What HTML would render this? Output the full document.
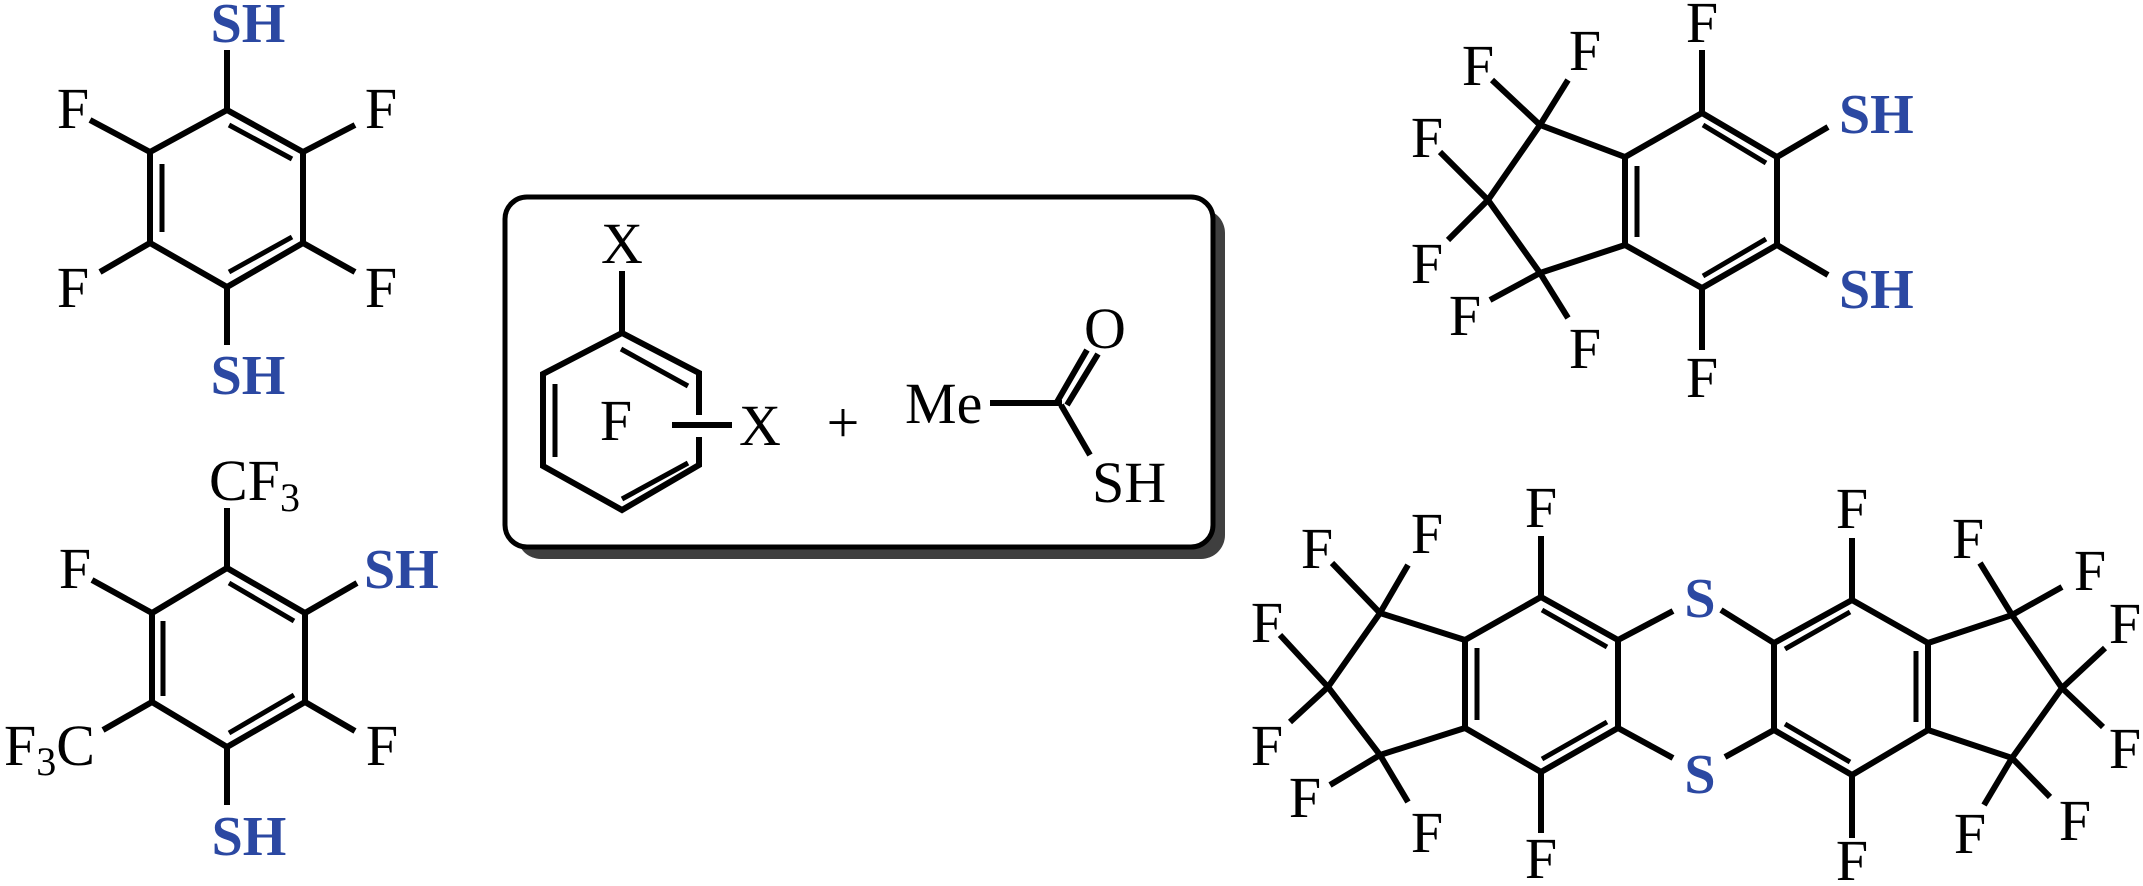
<!DOCTYPE html>
<html><head><meta charset="utf-8"><style>
html,body{margin:0;padding:0;background:#fff;width:2143px;height:886px;overflow:hidden}
svg{display:block}
text{font-family:"Liberation Serif",serif;font-size:58px;fill:#000}
.b{font-weight:bold;fill:#2b48a2;font-size:56px}
line,polyline,polygon{stroke:#000;stroke-width:6;fill:none;stroke-linecap:butt;stroke-linejoin:miter}
.d{stroke-width:5}
</style></head><body>
<svg width="2143" height="886" viewBox="0 0 2143 886">
<!-- Molecule 1 -->
<polygon points="227,110 303,152 303,243 227,287 150,243 150,152"/>
<line class="d" x1="162" y1="164" x2="162" y2="232"/>
<line class="d" x1="229" y1="125" x2="292" y2="159"/>
<line class="d" x1="292" y1="237" x2="229" y2="272"/>
<line x1="227" y1="110" x2="227" y2="50"/>
<line x1="227" y1="287" x2="227" y2="345"/>
<line x1="150" y1="152" x2="90" y2="120"/>
<line x1="303" y1="152" x2="355" y2="125"/>
<line x1="150" y1="243" x2="100" y2="272"/>
<line x1="303" y1="243" x2="355" y2="272"/>
<text class="b" x="248" y="42" text-anchor="middle">SH</text>
<text class="b" x="248" y="394" text-anchor="middle">SH</text>
<text x="73" y="128" text-anchor="middle">F</text>
<text x="381" y="128" text-anchor="middle">F</text>
<text x="73" y="307" text-anchor="middle">F</text>
<text x="381" y="307" text-anchor="middle">F</text>

<!-- Molecule 2 -->
<polygon points="227,568 305,613 305,702 227,747 152,702 152,613"/>
<line class="d" x1="163" y1="621" x2="163" y2="696"/>
<line class="d" x1="229" y1="583" x2="294" y2="621"/>
<line class="d" x1="294" y1="695" x2="229" y2="733"/>
<line x1="227" y1="568" x2="227" y2="508"/>
<line x1="152" y1="613" x2="92" y2="580"/>
<line x1="305" y1="613" x2="357" y2="583"/>
<line x1="305" y1="702" x2="355" y2="731"/>
<line x1="152" y1="702" x2="103" y2="730"/>
<line x1="227" y1="747" x2="227" y2="805"/>
<text x="209" y="500">CF<tspan font-size="40" dy="11">3</tspan></text>
<text x="75" y="588" text-anchor="middle">F</text>
<text class="b" x="364" y="588">SH</text>
<text x="382" y="765" text-anchor="middle">F</text>
<text x="4" y="765">F<tspan font-size="40" dy="10">3</tspan><tspan dy="-10">C</tspan></text>
<text class="b" x="249" y="855" text-anchor="middle">SH</text>

<!-- Box -->
<rect x="517" y="209" width="708" height="350" rx="24" fill="#3f3f3f" stroke="none"/>
<rect x="505" y="197" width="708" height="350" rx="22" fill="#fff" stroke="#000" stroke-width="5"/>
<line x1="622" y1="271" x2="622" y2="333"/>
<polyline points="699,415 699,373 622,333 543,374 543,466 622,510 699,465 699,437"/>
<line class="d" x1="555" y1="384" x2="555" y2="457"/>
<line class="d" x1="621" y1="349" x2="688" y2="386"/>
<line class="d" x1="688" y1="463" x2="622" y2="499"/>
<line x1="672" y1="425" x2="732" y2="425"/>
<text x="622" y="263" text-anchor="middle">X</text>
<text x="616" y="440" text-anchor="middle">F</text>
<text x="760" y="445" text-anchor="middle">X</text>
<text x="843" y="442" text-anchor="middle" font-size="72">+</text>
<text x="905" y="423">Me</text>
<line x1="990" y1="403" x2="1062" y2="403"/>
<line x1="1057" y1="402" x2="1087" y2="350"/>
<line x1="1067" y1="405" x2="1098" y2="354"/>
<line x1="1061" y1="405" x2="1090" y2="455"/>
<text x="1105" y="348" text-anchor="middle">O</text>
<text x="1092" y="502">SH</text>

<!-- Top-right molecule -->
<polygon points="1702,113 1777,157 1777,245 1702,288 1625,245 1625,157"/>
<line class="d" x1="1637" y1="166" x2="1637" y2="237"/>
<line class="d" x1="1703" y1="125" x2="1766" y2="163"/>
<line class="d" x1="1766" y1="239" x2="1703" y2="276"/>
<polyline points="1625,157 1540,125 1488,200 1540,273 1625,245"/>
<line x1="1702" y1="113" x2="1702" y2="50"/>
<line x1="1702" y1="288" x2="1702" y2="350"/>
<line x1="1777" y1="157" x2="1828" y2="127"/>
<line x1="1777" y1="245" x2="1828" y2="275"/>
<line x1="1540" y1="125" x2="1492" y2="80"/>
<line x1="1540" y1="125" x2="1568" y2="80"/>
<line x1="1488" y1="200" x2="1440" y2="152"/>
<line x1="1488" y1="200" x2="1448" y2="240"/>
<line x1="1540" y1="273" x2="1490" y2="300"/>
<line x1="1540" y1="273" x2="1568" y2="318"/>
<text x="1702" y="42" text-anchor="middle">F</text>
<text x="1702" y="397" text-anchor="middle">F</text>
<text class="b" x="1839" y="133">SH</text>
<text class="b" x="1839" y="308">SH</text>
<text x="1478" y="85" text-anchor="middle">F</text>
<text x="1585" y="70" text-anchor="middle">F</text>
<text x="1427" y="157" text-anchor="middle">F</text>
<text x="1427" y="283" text-anchor="middle">F</text>
<text x="1465" y="335" text-anchor="middle">F</text>
<text x="1585" y="368" text-anchor="middle">F</text>

<!-- Bottom-right molecule -->
<polygon points="1541,597 1618,640 1618,728 1541,772 1465,728 1465,640"/>
<line class="d" x1="1477" y1="648" x2="1477" y2="720"/>
<line class="d" x1="1542" y1="610" x2="1607" y2="647"/>
<line class="d" x1="1607" y1="722" x2="1542" y2="759"/>
<polyline points="1465,640 1380,613 1328,687 1380,755 1465,728"/>
<line x1="1541" y1="597" x2="1541" y2="536"/>
<line x1="1541" y1="772" x2="1541" y2="833"/>
<line x1="1380" y1="613" x2="1332" y2="563"/>
<line x1="1380" y1="613" x2="1408" y2="565"/>
<line x1="1328" y1="687" x2="1280" y2="635"/>
<line x1="1328" y1="687" x2="1290" y2="722"/>
<line x1="1380" y1="755" x2="1330" y2="785"/>
<line x1="1380" y1="755" x2="1408" y2="802"/>
<text x="1541" y="527" text-anchor="middle">F</text>
<text x="1541" y="878" text-anchor="middle">F</text>
<text x="1317" y="568" text-anchor="middle">F</text>
<text x="1427" y="553" text-anchor="middle">F</text>
<text x="1267" y="642" text-anchor="middle">F</text>
<text x="1267" y="765" text-anchor="middle">F</text>
<text x="1305" y="817" text-anchor="middle">F</text>
<text x="1427" y="852" text-anchor="middle">F</text>
<line x1="1618" y1="640" x2="1673" y2="611"/>
<line x1="1618" y1="728" x2="1673" y2="758"/>
<line x1="1721" y1="610" x2="1774" y2="643"/>
<line x1="1725" y1="757" x2="1774" y2="730"/>
<text class="b" x="1700" y="617" text-anchor="middle">S</text>
<text class="b" x="1700" y="793" text-anchor="middle">S</text>
<polygon points="1852,600 1928,643 1928,730 1852,775 1774,730 1774,643"/>
<line class="d" x1="1785" y1="649" x2="1850" y2="612"/>
<line class="d" x1="1916" y1="651" x2="1916" y2="722"/>
<line class="d" x1="1785" y1="724" x2="1850" y2="762"/>
<polyline points="1928,643 2012,615 2062,688 2012,758 1928,730"/>
<line x1="1852" y1="600" x2="1852" y2="538"/>
<line x1="1852" y1="775" x2="1852" y2="838"/>
<line x1="2012" y1="615" x2="1980" y2="563"/>
<line x1="2012" y1="615" x2="2062" y2="587"/>
<line x1="2062" y1="688" x2="2105" y2="648"/>
<line x1="2062" y1="688" x2="2103" y2="727"/>
<line x1="2012" y1="758" x2="1984" y2="805"/>
<line x1="2012" y1="758" x2="2050" y2="797"/>
<text x="1852" y="528" text-anchor="middle">F</text>
<text x="1852" y="880" text-anchor="middle">F</text>
<text x="1968" y="558" text-anchor="middle">F</text>
<text x="2090" y="590" text-anchor="middle">F</text>
<text x="2125" y="643" text-anchor="middle">F</text>
<text x="2125" y="768" text-anchor="middle">F</text>
<text x="1970" y="853" text-anchor="middle">F</text>
<text x="2075" y="840" text-anchor="middle">F</text>
</svg>
</body></html>
